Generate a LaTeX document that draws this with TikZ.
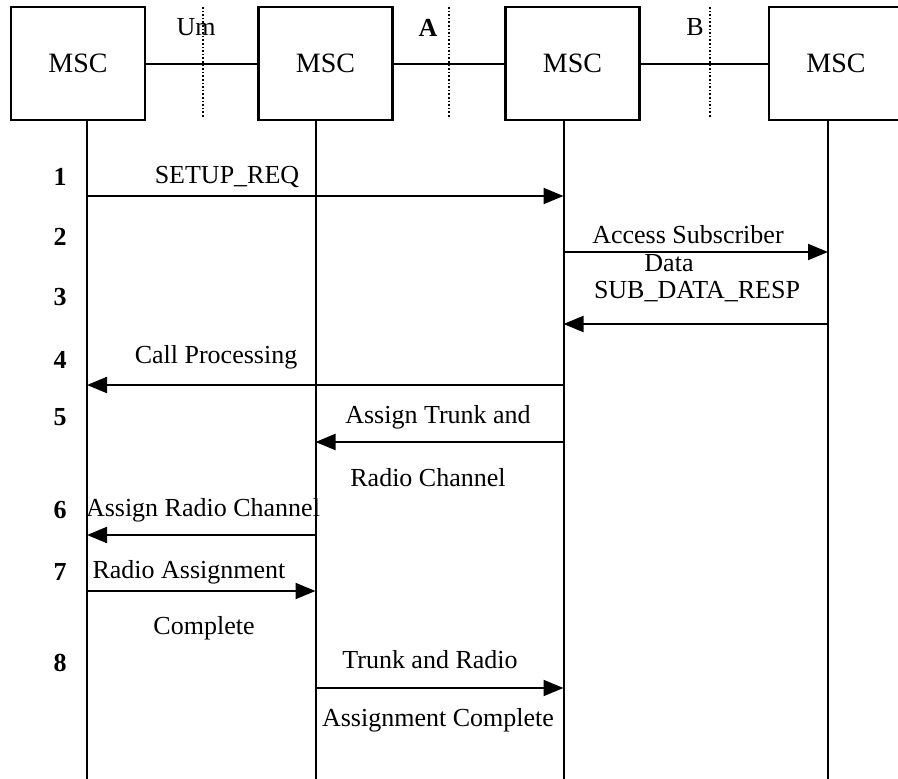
\documentclass[tikz,border=0pt]{standalone}
\usepackage{fontspec}
\setmainfont{Liberation Serif}
\usetikzlibrary{arrows.meta,positioning}

\begin{document}
\begin{tikzpicture}[x=1pt, y=-1pt,
  every node/.style={font=\fontsize{26}{30}\selectfont},
  msc/.style={draw, line width=2.2pt, minimum width=134pt, minimum height=113pt, inner sep=0pt,
    font=\fontsize{28}{32}\selectfont},
  lifeline/.style={line width=2pt},
  iface/.style={line width=1.6pt, dotted},
  msg/.style={line width=2pt, -{Triangle[length=20pt, width=16pt]}},
  num/.style={font=\fontsize{26}{30}\selectfont\bfseries}]
  \clip (0,0) rectangle (898,779);
  % network elements
  \node[msc] (m1) at (78,63.5) {MSC};
  \node[msc] (m2) at (325.5,63.5) {MSC};
  \node[msc] (m3) at (572.5,63.5) {MSC};
  \node[msc] (m4) at (836,63.5) {MSC};
  \draw[lifeline] (m1) -- (m2);
  \draw[lifeline] (m2) -- (m3);
  \draw[lifeline] (m3) -- (m4);
  % interfaces
  \draw[iface] (203,7) -- (203,117);
  \draw[iface] (449,7) -- (449,117);
  \draw[iface] (710,7) -- (710,117);
  \node (um) at (196,27) {Um};
  \node[font=\fontsize{26}{30}\selectfont\bfseries] (ifa) at (428,28) {A};
  \node (ifb) at (695,27) {B};
  % lifelines
  \coordinate (bot) at (0,779);
  \coordinate (l1) at ([xshift=9pt]m1.south);
  \coordinate (l2) at ([xshift=-10pt]m2.south);
  \coordinate (l3) at ([xshift=-9pt]m3.south);
  \coordinate (l4) at ([xshift=-8pt]m4.south);
  \foreach \i in {1,...,4}
    \draw[lifeline] (l\i) -- (l\i |- bot);
  % message rows
  \coordinate (r1) at (0,196);
  \coordinate (r2) at (0,252);
  \coordinate (r3) at (0,324);
  \coordinate (r4) at (0,385);
  \coordinate (r5) at (0,442);
  \coordinate (r6) at (0,535);
  \coordinate (r7) at (0,591);
  \coordinate (r8) at (0,688);
  \draw[msg] (l1 |- r1) -- (l3 |- r1);
  \draw[msg] (l3 |- r2) -- (l4 |- r2);
  \draw[msg] (l4 |- r3) -- (l3 |- r3);
  \draw[msg] (l3 |- r4) -- (l1 |- r4);
  \draw[msg] (l3 |- r5) -- (l2 |- r5);
  \draw[msg] (l2 |- r6) -- (l1 |- r6);
  \draw[msg] (l1 |- r7) -- (l2 |- r7);
  \draw[msg] (l2 |- r8) -- (l3 |- r8);
  % step numbers
  \node[num] (n1) at (60,177) {1};
  \node[num] (n2) at (60,237) {2};
  \node[num] (n3) at (60,297) {3};
  \node[num] (n4) at (60,360) {4};
  \node[num] (n5) at (60,417) {5};
  \node[num] (n6) at (60,510) {6};
  \node[num] (n7) at (60,572) {7};
  \node[num] (n8) at (60,663) {8};
  % message labels
  \node (setup) at (227,177) {SETUP\_REQ};
  \node (access) at (688,235) {Access Subscriber};
  \node (data) at (669,263) {Data};
  \node (subresp) at (697,292) {SUB\_DATA\_RESP};
  \node (callproc) at (216,357) {Call Processing};
  \node (asgtrunk) at (438,417) {Assign Trunk and};
  \node (radioch) at (428,478) {Radio Channel};
  \node (asgradio) at (203,510) {Assign Radio Channel};
  \node (radasg) at (189,572) {Radio Assignment};
  \node (complete) at (204,628) {Complete};
  \node (trunkradio) at (430,660) {Trunk and Radio};
  \node (asgdone) at (438,720) {Assignment Complete};
\end{tikzpicture}
\end{document}
